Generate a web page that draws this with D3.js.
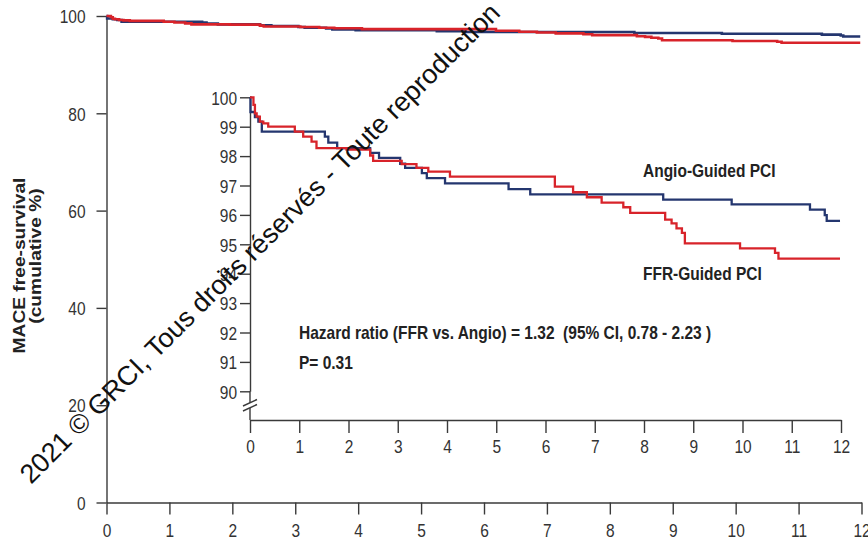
<!DOCTYPE html>
<html>
<head>
<meta charset="utf-8">
<script src="https://cdn.jsdelivr.net/npm/d3@7"></script>
<style>
  body { margin: 0; background: #fff; }
  svg { display: block; font-family: "Liberation Sans", Arial, sans-serif; }
</style>
</head>
<body>
<svg id="chart" width="868" height="541"></svg>
<script>
// ---- data -------------------------------------------------------------
const months = [0, 1, 2, 3, 4, 5, 6, 7, 8, 9, 10, 11, 12];
const mainYTicks = [0, 20, 40, 60, 80, 100];
const insetYTicks = [90, 91, 92, 93, 94, 95, 96, 97, 98, 99, 100];

// Kaplan-Meier steps, Angio-guided PCI (time in months, survival %)
const angioTime = [0, 0.01, 0.10, 0.17, 0.24, 1.52, 1.59, 1.77, 2.44, 2.62, 3.05, 3.15, 3.49, 3.59, 3.96, 5.25, 5.69, 8.39, 9.78, 11.37, 11.67, 11.71, 11.98];
const angioSurv = [100, 99.5, 99.33, 99.17, 98.83, 98.66, 98.46, 98.27, 98.11, 97.94, 97.74, 97.6, 97.42, 97.25, 97.07, 96.88, 96.70, 96.52, 96.36, 96.18, 95.99, 95.8, 95.8];

// Kaplan-Meier steps, FFR-guided PCI
const ffrTime = [0, 0.07, 0.10, 0.135, 0.20, 0.27, 0.37, 0.91, 1.08, 1.25, 1.35, 1.96, 2.44, 2.50, 3.08, 3.38, 3.62, 4.06, 6.19, 6.56, 6.84, 7.14, 7.58, 7.72, 8.43, 8.56, 8.66, 8.77, 8.83, 9.95, 10.66, 10.73, 11.98];
const ffrSurv = [100, 99.74, 99.45, 99.34, 99.17, 99.11, 99.0, 98.83, 98.66, 98.49, 98.27, 98.22, 98.02, 97.84, 97.73, 97.6, 97.47, 97.30, 96.96, 96.77, 96.6, 96.42, 96.26, 96.07, 95.84, 95.71, 95.54, 95.39, 95.03, 94.86, 94.71, 94.51, 94.51];

const seriesNames = ["Angio-Guided PCI", "FFR-Guided PCI"];
const yTitle = ["MACE free-survival", "(cumulative %)"];
const hazardText = "Hazard ratio (FFR vs. Angio) = 1.32  (95% CI, 0.78 - 2.23 )";
const pText = "P= 0.31";
const stampText = "2021 \u00A9 GRCI, Tous droits r\u00E9serv\u00E9s - Toute reproduction";

// ---- styles -----------------------------------------------------------
const BLUE = "#24366f";
const RED = "#d8232a";
const AXIS = "#3a3a3a";
const STRETCH = 1.2;           // type is drawn a little taller than wide
const FS = 15.5;

const svg = d3.select("#chart");

const angio = angioTime.map((t, i) => ({ t, s: angioSurv[i] }));
const ffr = ffrTime.map((t, i) => ({ t, s: ffrSurv[i] }));

// vertically stretch every text in a selection, keeping its anchor point
function stretch(sel) {
  sel.each(function () {
    const t = d3.select(this);
    const y = +(t.attr("y") || 0);
    t.attr("y", y / STRETCH).attr("transform", `scale(1,${STRETCH})`);
  });
}

function label(parent, x, y, str, opts = {}) {
  const g = parent.append("g").attr("transform", `translate(${x},${y})`);
  const t = g.append("text")
    .attr("transform", `scale(1,${STRETCH})`)
    .attr("font-size", opts.size || FS)
    .attr("font-weight", opts.weight || "normal")
    .attr("fill", opts.fill || "#222")
    .style("white-space", "pre")
    .text(str);
  return t;
}

function styleAxis(g) {
  g.select(".domain").attr("stroke", AXIS).attr("stroke-width", 1.4);
  g.selectAll(".tick line").attr("stroke", AXIS).attr("stroke-width", 1.4);
  g.selectAll(".tick text").attr("fill", "#333").attr("font-size", FS)
    .attr("font-family", "Liberation Sans, Arial, sans-serif");
}

// ---- main plot --------------------------------------------------------
const x = d3.scaleLinear().domain([0, 12]).range([106.5, 861.5]);
const y = d3.scaleLinear().domain([0, 100]).range([502.5, 16]);

const gx = svg.append("g").attr("transform", `translate(0,${y(0)})`)
  .call(d3.axisBottom(x).tickValues(months).tickSizeInner(12).tickSizeOuter(0));
styleAxis(gx);
gx.selectAll(".tick text").attr("y", 35).attr("dy", 0);
stretch(gx.selectAll(".tick text"));

const gy = svg.append("g").attr("transform", `translate(${x(0)},0)`)
  .call(d3.axisLeft(y).tickValues(mainYTicks).tickSizeInner(10).tickSizeOuter(0).tickPadding(11));
styleAxis(gy);
gy.selectAll(".tick text").attr("dy", "0.36em");
stretch(gy.selectAll(".tick text"));

// y title, two rotated lines
const titleG = svg.append("g");
[[25, 265.5], [41, 256]].forEach(([tx, ty], i) => {
  titleG.append("g").attr("transform", `translate(${tx},${ty}) rotate(-90)`)
    .append("text")
    .attr("transform", `scale(${STRETCH},1)`)
    .attr("text-anchor", "middle")
    .attr("font-size", 16)
    .attr("font-weight", "bold")
    .attr("fill", "#222")
    .text(yTitle[i]);
});

const lineMain = d3.line().curve(d3.curveStepAfter).x(d => x(d.t)).y(d => y(d.s));
svg.append("path").datum(angio).attr("d", lineMain)
  .attr("fill", "none").attr("stroke", BLUE).attr("stroke-width", 2.6);
svg.append("path").datum(ffr).attr("d", lineMain)
  .attr("fill", "none").attr("stroke", RED).attr("stroke-width", 2.6);

// ---- inset ------------------------------------------------------------
const xi = d3.scaleLinear().domain([0, 12]).range([250, 841]);
const yi = d3.scaleLinear().domain([90, 100]).range([391.3, 97.3]);
const insetBase = 420;

const gxi = svg.append("g").attr("transform", `translate(0,${insetBase})`)
  .call(d3.axisBottom(xi).tickValues(months).tickSizeInner(13).tickSizeOuter(0));
styleAxis(gxi);
gxi.selectAll(".tick text").attr("y", 33.5).attr("dy", 0);
stretch(gxi.selectAll(".tick text"));

const gyi = svg.append("g").attr("transform", `translate(${xi(0)},0)`)
  .call(d3.axisLeft(yi).tickValues(insetYTicks).tickSizeInner(10).tickSizeOuter(0).tickPadding(3));
styleAxis(gyi);
gyi.selectAll(".tick text").attr("dy", "0.36em");
stretch(gyi.selectAll(".tick text"));

// axis continues below 90 with a break mark
const bx = xi(0);
svg.append("line").attr("x1", bx).attr("x2", bx).attr("y1", yi(90)).attr("y2", insetBase)
  .attr("stroke", AXIS).attr("stroke-width", 1.4);
svg.append("polygon")
  .attr("points", `${bx - 7},${406} ${bx + 7},${399.5} ${bx + 7},${404.5} ${bx - 7},${411}`)
  .attr("fill", "#fff");
[[406, 399.5], [411, 404.5]].forEach(([a, b]) => {
  svg.append("line").attr("x1", bx - 7).attr("y1", a).attr("x2", bx + 7).attr("y2", b)
    .attr("stroke", AXIS).attr("stroke-width", 1.4);
});

const lineInset = d3.line().curve(d3.curveStepAfter).x(d => xi(d.t)).y(d => yi(d.s));
svg.append("path").datum(angio).attr("d", lineInset)
  .attr("fill", "none").attr("stroke", BLUE).attr("stroke-width", 2.3);
svg.append("path").datum(ffr).attr("d", lineInset)
  .attr("fill", "none").attr("stroke", RED).attr("stroke-width", 2.3);

// series labels and statistics
label(svg, 643, 177, seriesNames[0], { weight: "bold" });
label(svg, 643, 280, seriesNames[1], { weight: "bold" });
label(svg, 299, 338.5, hazardText, { weight: "bold" });
label(svg, 299, 368.5, pText, { weight: "bold" });

// copyright stamp across the plot
svg.append("g").attr("transform", "translate(31,485) rotate(-45)")
  .append("text")
  .attr("font-size", 27)
  .attr("fill", "#111")
  .text(stampText);
</script>
</body>
</html>
